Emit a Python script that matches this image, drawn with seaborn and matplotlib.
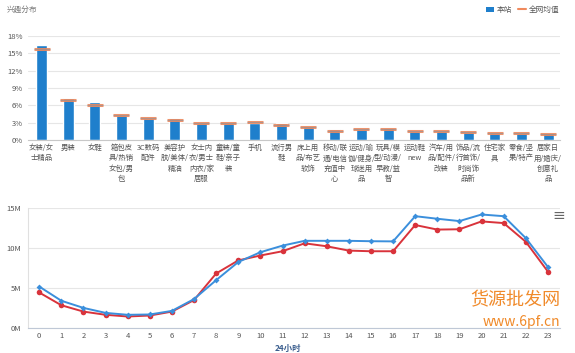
import numpy as np
import pandas as pd
import matplotlib
matplotlib.use('Agg')
import matplotlib.pyplot as plt
import seaborn as sns
from matplotlib.patches import Patch
from matplotlib.lines import Line2D

sns.set_style('white')
plt.rcParams['font.family'] = ['Noto Sans CJK SC', 'DejaVu Sans']

# --- data ---
categories = ['女装/女\n士精品', '男装', '女鞋', '箱包皮\n具/热销\n女包/男\n包', '3C数码\n配件',
              '美容护\n肤/美体/\n精油', '女士内\n衣/男士\n内衣/家\n居服', '童装/童\n鞋/亲子\n装', '手机',
              '流行男\n鞋', '床上用\n品/布艺\n软饰', '移动/联\n通/电信\n充值中\n心',
              '运动/瑜\n伽/健身/\n球迷用\n品', '玩具/模\n型/动漫/\n早教/益\n智', '运动鞋\nnew',
              '汽车/用\n品/配件/\n改装', '饰品/流\n行首饰/\n时尚饰\n品新', '住宅家\n具',
              '零食/坚\n果/特产', '居家日\n用/婚庆/\n创意礼\n品']
site_share = [16.4, 7.2, 6.6, 4.4, 3.8, 3.85, 3.0, 3.0, 3.0, 2.9,
              2.4, 1.95, 1.95, 2.1, 1.55, 1.65, 1.4, 1.25, 1.15, 1.15]
net_avg = [15.8, 6.9, 6.1, 4.3, 3.8, 3.4, 3.0, 2.9, 3.05, 2.6,
           2.25, 1.55, 1.9, 2.0, 1.55, 1.65, 1.35, 1.25, 1.15, 1.1]

hours = list(range(24))
blue_line = [5.2, 3.43, 2.54, 1.92, 1.68, 1.72, 2.17, 3.64, 6.0, 8.26, 9.48, 10.3,
             10.9, 10.9, 10.9, 10.85, 10.83, 13.97, 13.65, 13.36, 14.18, 13.97, 11.24, 7.65]
red_line = [4.46, 2.87, 2.08, 1.68, 1.47, 1.59, 2.08, 3.52, 6.83, 8.46, 9.07, 9.6,
            10.59, 10.22, 9.68, 9.6, 9.6, 12.87, 12.3, 12.34, 13.32, 13.11, 10.78, 7.07]

BAR_BLUE = '#1f7fcc'
AVG_ORANGE = '#f08a5d'
LINE_BLUE = '#3b8fdc'
LINE_RED = '#d9333b'
GRID = '#e6e6e6'
TXT = '#555555'

fig = plt.figure(figsize=(5.75, 3.53), dpi=100)
fig.patch.set_facecolor('white')

# --- top: interest distribution ---
ax1 = fig.add_axes([0.049, 0.603, 0.925, 0.295])
df_bar = pd.DataFrame({'cat': categories, 'share': site_share})
sns.barplot(data=df_bar, x='cat', y='share', color=BAR_BLUE, width=0.41,
            saturation=1, ax=ax1)
ax1.plot(range(len(net_avg)), net_avg, linestyle='none', marker='_',
         markersize=12, markeredgewidth=2.2, color=AVG_ORANGE, alpha=0.9)
ax1.plot(range(len(net_avg)), net_avg, linestyle='none', marker='_',
         markersize=11, markeredgewidth=0.8, color='#8a8f99', alpha=0.6)
ax1.set_xlim(-0.5, 19.45)
ax1.set_ylim(0, 18)
ax1.set_yticks([0, 3, 6, 9, 12, 15, 18])
ax1.set_yticklabels([f'{v}%' for v in [0, 3, 6, 9, 12, 15, 18]])
ax1.yaxis.grid(True, color=GRID, linewidth=0.8)
ax1.set_axisbelow(True)
for s in ['top', 'right', 'left']:
    ax1.spines[s].set_visible(False)
ax1.spines['bottom'].set_color('#c8c8c8')
ax1.tick_params(axis='y', labelsize=5.5, labelcolor=TXT, length=0, pad=4)
ax1.tick_params(axis='x', labelsize=5.3, labelcolor=TXT, length=0, pad=3)
for lab in ax1.get_xticklabels():
    lab.set_linespacing(1.35)
    lab.set_verticalalignment('top')
ax1.set_xlabel('')
ax1.set_ylabel('')

fig.text(0.012, 0.972, '兴趣分布', fontsize=5.5, color='#777777', va='center')
handles = [Patch(facecolor=BAR_BLUE, edgecolor='none'),
           Line2D([0], [0], color=AVG_ORANGE, linewidth=1.5)]
fig.legend(handles, ['本站', '全网均值'], loc='center right',
           bbox_to_anchor=(0.985, 0.972), ncol=2, frameon=False, fontsize=5.5,
           handlelength=1.0, handleheight=0.7, columnspacing=0.8, handletextpad=0.4,
           labelcolor=TXT)

# --- bottom: 24 hour curve ---
ax2 = fig.add_axes([0.049, 0.07, 0.925, 0.341])
df_line = pd.DataFrame({'hour': hours, 'blue': blue_line, 'red': red_line})
sns.lineplot(data=df_line, x='hour', y='red', color=LINE_RED, marker='o',
             markersize=4, markeredgewidth=0, linewidth=1.4, ax=ax2)
sns.lineplot(data=df_line, x='hour', y='blue', color=LINE_BLUE, marker='D',
             markersize=3, markeredgewidth=0, linewidth=1.4, ax=ax2)
ax2.set_xlim(-0.47, 23.55)
ax2.set_ylim(0, 15)
ax2.set_yticks([0, 5, 10, 15])
ax2.set_yticklabels(['0M', '5M', '10M', '15M'])
ax2.set_xticks(hours)
ax2.set_xticks(np.arange(-0.5, 24, 1), minor=True)
ax2.yaxis.grid(True, color=GRID, linewidth=0.8)
ax2.set_axisbelow(True)
for s in ['top', 'right']:
    ax2.spines[s].set_visible(False)
ax2.spines['left'].set_color('#e0e0e0')
ax2.spines['bottom'].set_color('#bfc8d6')
ax2.tick_params(axis='y', labelsize=5.5, labelcolor=TXT, length=0, pad=5)
ax2.tick_params(axis='x', which='major', labelsize=5.5, labelcolor=TXT, length=0, pad=3)
ax2.tick_params(axis='x', which='minor', length=3, color='#bfc8d6', width=0.6)
ax2.set_xlabel('')
ax2.set_ylabel('')
fig.text(0.5, 0.0, '24小时', fontsize=6, color='#3c5f8f', ha='center',
         va='bottom', fontweight='bold')
fig.text(0.972, 0.39, '≡', fontsize=11, color='#666666', ha='center', va='center',
         family=['DejaVu Sans'])

# watermark
fig.text(0.975, 0.15, '货源批发网', fontsize=13, color='#f08a2a', ha='right', va='center')
fig.text(0.975, 0.088, 'www.6pf.cn', fontsize=10, color='#f08a2a', ha='right', va='center',
         style='italic')

plt.savefig('out.png', dpi=100, facecolor='white')
